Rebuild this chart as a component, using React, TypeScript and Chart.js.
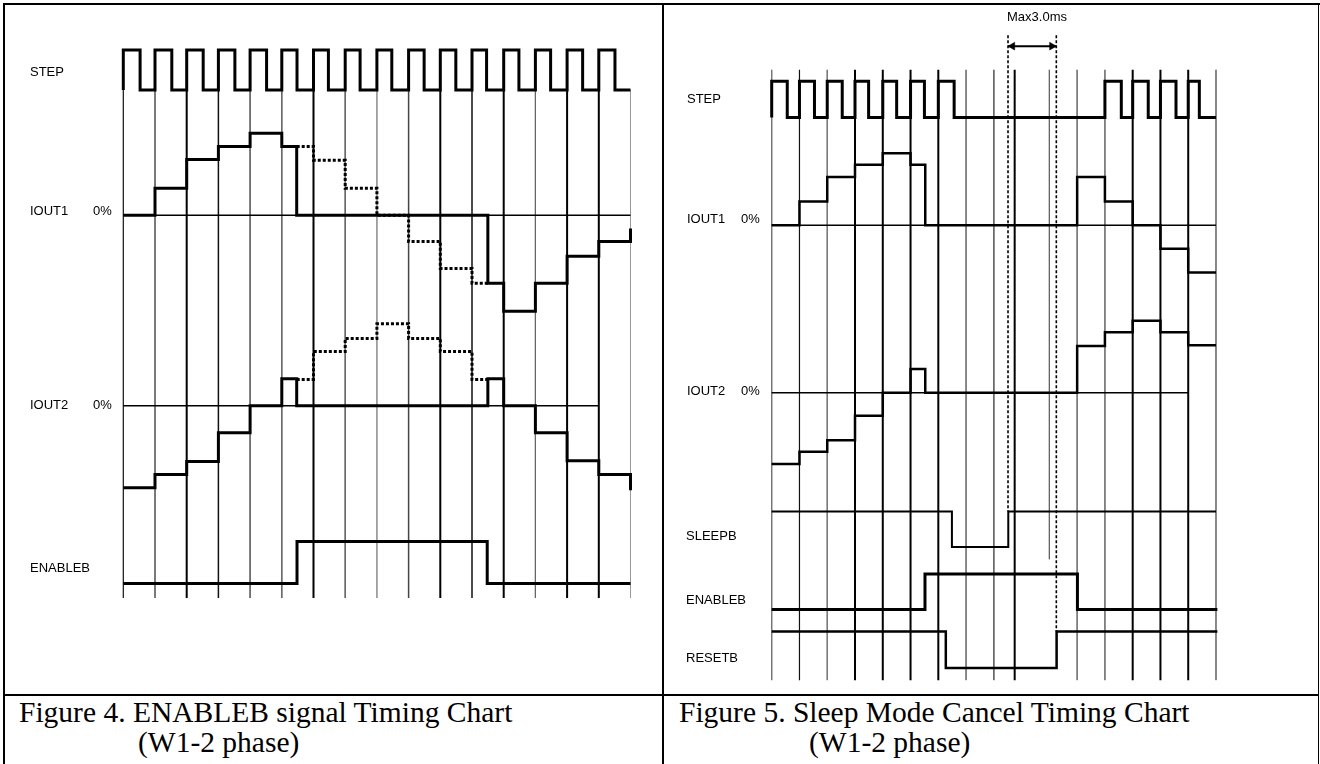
import React, { useEffect, useRef } from "react";
import { Chart, registerables } from "chart.js";

Chart.register(...registerables);

// ================= DATA =================
// Figure 4 (ENABLEB signal timing chart). Time in STEP periods, levels in % (IOUT) or logic (0/1).
const F4_GRID = [0, 1, 2, 3, 4, 5, 6, 7, 8, 9, 10, 11, 12, 13, 14, 15, 16];
const F4_STEP_RISE = [0, 1, 2, 3, 4, 5, 6, 7, 8, 9, 10, 11, 12, 13, 14, 15];
const F4_STEP_FALL = [0.53, 1.53, 2.52, 3.52, 4.52, 5.48, 6.47, 7.47, 8.47, 9.49, 10.49, 11.46, 12.48, 13.48, 14.49, 15.51];
const F4_STEP_END = 16;
const F4_IOUT1_T = [0, 1, 2, 3, 4, 5, 5.47, 11.5, 12, 13, 14, 15, 16];
const F4_IOUT1_V = [0, 33, 68, 84, 100, 84, 0, -83, -117, -83, -50, -32, -16];
const F4_IOUT1_DOT_T = [5.47, 6, 7, 8, 9, 10, 11, 11.5];
const F4_IOUT1_DOT_V = [84, 67, 33, 0, -32, -65, -83, -83];
const F4_IOUT2_T = [0, 1, 2, 3, 4, 5, 5.47, 11.5, 12, 13, 14, 15, 16];
const F4_IOUT2_V = [-100, -84, -68, -33, 0, 33, 0, 33, 0, -33, -67, -84, -103];
const F4_IOUT2_DOT_T = [5.47, 6, 7, 8, 9, 10, 11, 11.5];
const F4_IOUT2_DOT_V = [32, 66, 82, 100, 82, 66, 32, 32];
const F4_ENABLEB_T = [0, 5.48, 11.48, 16];
const F4_ENABLEB_V = [0, 1, 0, 0];
const F4_ZERO1_T = [0, 16];
const F4_ZERO2_T = [0, 15];

// Figure 5 (Sleep mode cancel timing chart)
const F5_GRID = [0, 1, 2, 3, 4, 5, 6, 7, 8, 8.75, 10, 11, 12, 13, 14, 15, 16];
const F5_STEP_RISE = [0, 1, 2, 3, 4, 5, 6, 12, 13, 14, 15];
const F5_STEP_FALL = [0.56, 1.54, 2.54, 3.49, 4.5, 5.5, 6.57, 12.59, 13.56, 14.56, 15.4];
const F5_STEP_END = 16;
const F5_IOUT1_T = [0, 1, 2, 3, 4, 5, 5.53, 11, 12, 13, 14, 15, 16];
const F5_IOUT1_V = [0, 33, 67, 84, 100, 84, 0, 67, 33, 0, -33, -66, -66];
const F5_IOUT2_T = [0, 1, 2, 3, 4, 5, 5.53, 11, 12, 13, 14, 15, 16];
const F5_IOUT2_V = [-99, -82, -66, -32, 0, 33, 0, 65, 84, 100, 84, 66, 66];
const F5_SLEEPB_T = [0, 6.49, 8.52, 16];
const F5_SLEEPB_V = [1, 0, 1, 1];
const F5_ENABLEB_T = [0, 5.52, 11.01, 16.05];
const F5_ENABLEB_V = [0, 1, 0, 0];
const F5_RESETB_T = [0, 6.27, 10.26, 16.05];
const F5_RESETB_V = [1, 0, 1, 1];
const F5_ZERO1_T = [0, 16];
const F5_ZERO2_T = [0, 15];
const F5_MAX_T = [8.51, 10.25]; // Max 3.0ms window

// ================= LAYOUT / STYLE =================
type Panel = { left: number; top: number; width: number; height: number; x0: number; dx: number };
const LEFT: Panel = { left: 5, top: 5, width: 657, height: 689, x0: 123.3, dx: 31.7 };
const RIGHT: Panel = { left: 664, top: 5, width: 653, height: 689, x0: 768.3, dx: 28.2 };

type Lane = { base: number; scale: number };
const F4_LANES = {
  step: { base: 90, scale: 40 },
  iout1: { base: 215.3, scale: 0.82 },
  iout2: { base: 405.7, scale: 0.82 },
  enable: { base: 583.5, scale: 42 },
};
const F4_GRID_TOP = 90;
const F4_GRID_BOTTOM = 598;
const F4_GRID_W = [1.2, 1, 2, 1.5, 1, 1, 2, 1, 1, 1.5, 2, 1.5, 2, 1, 2, 2, 1];
const F4_GRID_C = ["#111", "#666", "#000", "#111", "#666", "#666", "#000", "#666", "#999", "#444", "#000", "#111", "#000", "#666", "#000", "#000", "#999"];

const F5_LANES = {
  step: { base: 114, scale: 36.7 },
  iout1: { base: 223.3, scale: 0.73 },
  iout2: { base: 393.3, scale: 0.73 },
  sleep: { base: 550, scale: 36 },
  enable: { base: 613.3, scale: 36 },
  reset: { base: 672.7, scale: 37 },
};
const F5_GRID_TOP = 65.7;
const F5_GRID_BOTTOM = [685, 685, 685, 685, 685, 685, 685, 685, 685, 685, 562.3, 685, 685, 685, 685, 685, 685];
const F5_GRID_W = [1, 1.2, 1, 2, 2, 2, 2, 1, 1, 2, 1, 1, 1, 2, 2, 2, 1];
const F5_GRID_C = ["#777", "#111", "#777", "#000", "#000", "#000", "#000", "#777", "#666", "#000", "#666", "#777", "#777", "#000", "#000", "#000", "#777"];
const F5_DASH_TOP = 30.7;
const F5_ARROW_Y = 41.7;
const ARROW_R = 4.5;

const SANS = '"Liberation Sans", Arial, sans-serif';
const SERIF = '"Liberation Serif", "Times New Roman", serif';

// ================= HELPERS =================
const py = (p: Panel, lane: Lane, v: number) => lane.base - v * lane.scale - p.top;

function stepSeries(p: Panel, lane: Lane, t: number[], v: number[]) {
  return t.map((x, i) => ({ x, y: py(p, lane, v[i]) }));
}

function clockSeries(p: Panel, lane: Lane, rise: number[], fall: number[], end: number) {
  const pts: { x: number; y: number }[] = [{ x: rise[0], y: py(p, lane, 0) }];
  rise.forEach((r, i) => {
    pts.push({ x: r, y: py(p, lane, 1) });
    pts.push({ x: fall[i], y: py(p, lane, 0) });
  });
  pts.push({ x: end, y: py(p, lane, 0) });
  return pts;
}

function sig(data: any[], width: number, extra: any = {}) {
  return {
    data,
    stepped: true,
    borderColor: "#000",
    borderWidth: width,
    pointRadius: 0,
    fill: false,
    order: 1,
    borderJoinStyle: "miter",
    ...extra,
  };
}

function vline(p: Panel, x: number, top: number, bottom: number, width: number, color: string, extra: any = {}) {
  return {
    data: [
      { x, y: top - p.top },
      { x, y: bottom - p.top },
    ],
    borderColor: color,
    borderWidth: width,
    pointRadius: 0,
    fill: false,
    order: 10,
    ...extra,
  };
}

function hline(p: Panel, lane: Lane, t: number[], width: number) {
  return {
    data: t.map((x) => ({ x, y: lane.base - p.top })),
    borderColor: "#000",
    borderWidth: width,
    pointRadius: 0,
    fill: false,
    order: 5,
  };
}

function buildF4(): any[] {
  const p = LEFT;
  const L = F4_LANES;
  const ds: any[] = [];
  ds.push(sig(clockSeries(p, L.step, F4_STEP_RISE, F4_STEP_FALL, F4_STEP_END), 3));
  ds.push(sig(stepSeries(p, L.iout1, F4_IOUT1_T, F4_IOUT1_V), 3));
  ds.push(sig(stepSeries(p, L.iout1, F4_IOUT1_DOT_T, F4_IOUT1_DOT_V), 3, { borderDash: [3, 2], order: 2 }));
  ds.push(sig(stepSeries(p, L.iout2, F4_IOUT2_T, F4_IOUT2_V), 3));
  ds.push(sig(stepSeries(p, L.iout2, F4_IOUT2_DOT_T, F4_IOUT2_DOT_V), 3, { borderDash: [3, 2], order: 2 }));
  ds.push(sig(stepSeries(p, L.enable, F4_ENABLEB_T, F4_ENABLEB_V), 3));
  ds.push(hline(p, L.iout1, F4_ZERO1_T, 1.5));
  ds.push(hline(p, L.iout2, F4_ZERO2_T, 1.5));
  F4_GRID.forEach((k, i) => ds.push(vline(p, k, F4_GRID_TOP, F4_GRID_BOTTOM, F4_GRID_W[i], F4_GRID_C[i])));
  return ds;
}

function buildF5(): any[] {
  const p = RIGHT;
  const L = F5_LANES;
  const ds: any[] = [];
  ds.push(sig(clockSeries(p, L.step, F5_STEP_RISE, F5_STEP_FALL, F5_STEP_END), 3));
  ds.push(sig(stepSeries(p, L.iout1, F5_IOUT1_T, F5_IOUT1_V), 2.5));
  ds.push(sig(stepSeries(p, L.iout2, F5_IOUT2_T, F5_IOUT2_V), 2.5));
  ds.push(sig(stepSeries(p, L.sleep, F5_SLEEPB_T, F5_SLEEPB_V), 2));
  ds.push(sig(stepSeries(p, L.enable, F5_ENABLEB_T, F5_ENABLEB_V), 3));
  ds.push(sig(stepSeries(p, L.reset, F5_RESETB_T, F5_RESETB_V), 2.5));
  ds.push(hline(p, L.iout1, F5_ZERO1_T, 1.5));
  ds.push(hline(p, L.iout2, F5_ZERO2_T, 1.5));
  // dashed markers of the Max3.0ms window
  const dashBottoms = [L.sleep.base - L.sleep.scale, L.reset.base - L.reset.scale];
  F5_MAX_T.forEach((t, i) =>
    ds.push(vline(p, t, F5_DASH_TOP, dashBottoms[i], 1.6, "#000", { borderDash: [3, 2], order: 3 }))
  );
  // arrow shaft
  ds.push({
    data: F5_MAX_T.map((x) => ({ x, y: F5_ARROW_Y - p.top })),
    borderColor: "#000",
    borderWidth: 2,
    pointRadius: 0,
    fill: false,
    order: 3,
  });
  // arrow heads
  const off = ARROW_R / p.dx;
  ds.push({
    data: [
      { x: F5_MAX_T[0] + off, y: F5_ARROW_Y - p.top },
      { x: F5_MAX_T[1] - off, y: F5_ARROW_Y - p.top },
    ],
    showLine: false,
    pointStyle: "triangle",
    pointRadius: ARROW_R,
    pointRotation: [-90, 90],
    pointBackgroundColor: "#000",
    pointBorderColor: "#000",
    pointBorderWidth: 0.5,
    order: 2,
  });
  F5_GRID.forEach((k, i) => ds.push(vline(p, k, F5_GRID_TOP, F5_GRID_BOTTOM[i], F5_GRID_W[i], F5_GRID_C[i])));
  return ds;
}

function PanelChart({ panel, build }: { panel: Panel; build: () => any[] }) {
  const ref = useRef<HTMLCanvasElement>(null);
  useEffect(() => {
    if (!ref.current) return;
    const chart = new Chart(ref.current, {
      type: "line",
      data: { datasets: build() },
      options: {
        responsive: false,
        maintainAspectRatio: false,
        animation: false,
        devicePixelRatio: 1,
        events: [],
        layout: { padding: 0 },
        plugins: { legend: { display: false }, tooltip: { enabled: false }, title: { display: false } },
        scales: {
          x: {
            type: "linear",
            display: false,
            min: (panel.left - panel.x0) / panel.dx,
            max: (panel.left + panel.width - panel.x0) / panel.dx,
          },
          y: { type: "linear", display: false, min: 0, max: panel.height, reverse: true },
        },
      } as any,
    });
    return () => chart.destroy();
  }, []);
  return (
    <canvas
      ref={ref}
      width={panel.width}
      height={panel.height}
      style={{ position: "absolute", left: panel.left, top: panel.top, width: panel.width, height: panel.height }}
    />
  );
}

const LABELS: { text: string; x: number; y: number }[] = [
  { text: "STEP", x: 30, y: 71.7 },
  { text: "IOUT1", x: 30, y: 210 },
  { text: "0%", x: 93, y: 210 },
  { text: "IOUT2", x: 30, y: 404 },
  { text: "0%", x: 93, y: 404 },
  { text: "ENABLEB", x: 30, y: 567 },
  { text: "STEP", x: 687, y: 98.3 },
  { text: "IOUT1", x: 687, y: 218.3 },
  { text: "0%", x: 741, y: 218.3 },
  { text: "IOUT2", x: 687, y: 390.7 },
  { text: "0%", x: 741, y: 390.7 },
  { text: "SLEEPB", x: 686, y: 535 },
  { text: "ENABLEB", x: 686, y: 599 },
  { text: "RESETB", x: 686, y: 657.3 },
  { text: "Max3.0ms", x: 1007, y: 16.2 },
];

const CAPTIONS: { text: string; x: number; baseline: number }[] = [
  { text: "Figure 4. ENABLEB signal Timing Chart", x: 19, baseline: 723 },
  { text: "(W1-2 phase)", x: 138, baseline: 753 },
  { text: "Figure 5. Sleep Mode Cancel Timing Chart", x: 679, baseline: 723 },
  { text: "(W1-2 phase)", x: 809, baseline: 753 },
];

const bar = (left: number, top: number, width: number, height: number) => (
  <div style={{ position: "absolute", left, top, width, height, background: "#000" }} />
);

export default function App() {
  return (
    <div
      style={{
        position: "absolute",
        left: 0,
        top: 0,
        width: 1320,
        height: 764,
        background: "#fff",
        overflow: "hidden",
      }}
    >
      {bar(3, 3, 1316.5, 2)}
      {bar(3, 3, 2, 800)}
      {bar(1317.5, 3, 1.8, 800)}
      {bar(662, 3, 2, 800)}
      {bar(3, 694.3, 1316, 2)}
      <PanelChart panel={LEFT} build={buildF4} />
      <PanelChart panel={RIGHT} build={buildF5} />
      {LABELS.map((l, i) => (
        <span
          key={"l" + i}
          style={{
            position: "absolute",
            left: l.x,
            top: l.y - 7.35,
            fontFamily: SANS,
            fontSize: 13,
            lineHeight: "15px",
            color: "#000",
            whiteSpace: "nowrap",
          }}
        >
          {l.text}
        </span>
      ))}
      {CAPTIONS.map((c, i) => (
        <span
          key={"c" + i}
          style={{
            position: "absolute",
            left: c.x,
            top: c.baseline - 24.6,
            fontFamily: SERIF,
            fontSize: 29.5,
            lineHeight: "29.5px",
            color: "#000",
            whiteSpace: "nowrap",
          }}
        >
          {c.text}
        </span>
      ))}
    </div>
  );
}
